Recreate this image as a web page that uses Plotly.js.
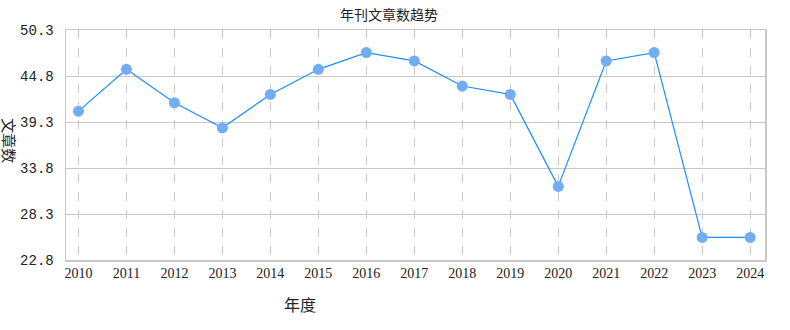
<!DOCTYPE html>
<html>
<head>
<meta charset="utf-8">
<script src="https://cdn.plot.ly/plotly-3.0.1.min.js"></script>
<style>html,body{margin:0;padding:0;background:#fff;}#chart{width:790px;height:330px;}</style>
</head>
<body>
<div id="chart"></div>
<script>
const years = [2010, 2011, 2012, 2013, 2014, 2015, 2016, 2017, 2018, 2019, 2020, 2021, 2022, 2023, 2024];
const counts = [40.6, 45.6, 41.6, 38.6, 42.6, 45.6, 47.6, 46.6, 43.6, 42.6, 31.6, 46.6, 47.6, 25.5, 25.5];
const yTicks = [22.8, 28.3, 33.8, 39.3, 44.8, 50.3];
const yTickText = ['22.8', '28.3', '33.8', '39.3', '44.8', '50.3'];
const chartTitle = '年刊文章数趋势';
const xTitle = '年度';
const yTitle = '文章数';

const trace = {
  x: years, y: counts, type: 'scatter', mode: 'lines+markers',
  line: {color: '#1a8fff', width: 1.2},
  marker: {color: '#72acf5', size: 11},
  hoverinfo: 'skip'
};
const layout = {
  width: 790, height: 330,
  margin: {l: 66, r: 25, t: 30, b: 70},
  paper_bgcolor: '#fff', plot_bgcolor: '#fff',
  showlegend: false,
  title: {text: chartTitle, x: 0.4925, xanchor: 'center', y: 0.955, yanchor: 'middle',
          font: {family: 'Noto Sans CJK SC', size: 14, color: '#222'}},
  xaxis: {
    range: [2009.74, 2024.31], tickvals: years, ticktext: years.map(String),
    showgrid: true, gridcolor: '#c8c8c8', griddash: 'dash', gridwidth: 1,
    zeroline: false, showline: true, linecolor: '#c8c8c8', linewidth: 1.5, mirror: true,
    ticks: '', tickfont: {family: 'Liberation Serif', size: 14, color: '#222'},
    title: {text: ''}
  },
  yaxis: {
    range: [22.8, 50.3], tickvals: yTicks, ticktext: yTickText,
    showgrid: true, gridcolor: '#c8c8c8', gridwidth: 1,
    zeroline: false, showline: true, linecolor: '#c8c8c8', linewidth: 1.5, mirror: true,
    ticks: '', ticklabelstandoff: 8, tickfont: {family: 'Liberation Mono', size: 14, color: '#222'},
    title: {text: ''}
  },
  annotations: [
    {text: xTitle, xref: 'paper', yref: 'paper', x: 0.335, y: -0.19, xanchor: 'center', yanchor: 'middle',
     showarrow: false, font: {family: 'Noto Sans CJK SC', size: 16, color: '#222'}},
    {text: yTitle, xref: 'paper', yref: 'paper', x: -0.08, y: 0.52, xanchor: 'center', yanchor: 'middle',
     textangle: 90, showarrow: false, font: {family: 'Noto Sans CJK SC', size: 15, color: '#222'}}
  ]
};
Plotly.newPlot('chart', [trace], layout, {displayModeBar: false, staticPlot: true});
</script>
</body>
</html>
